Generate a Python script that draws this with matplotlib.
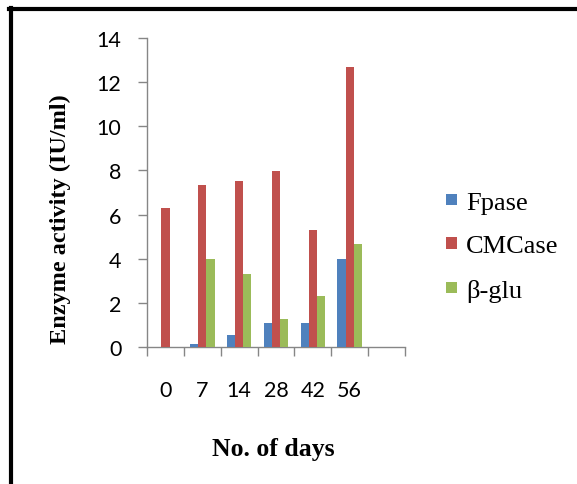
import matplotlib
matplotlib.use('Agg')
from matplotlib import pyplot as plt
from matplotlib.lines import Line2D
import numpy as np

# data
days = ['0', '7', '14', '28', '42', '56']
fpase = [0.0, 0.12, 0.53, 1.10, 1.10, 3.98]
cmcase = [6.28, 7.34, 7.51, 7.98, 5.31, 12.68]
beta_glu = [0.0, 3.98, 3.33, 1.29, 2.29, 4.66]

series = [
    (fpase, '#4F81BD', 'Fpase'),
    (cmcase, '#C0504D', 'CMCase'),
    (beta_glu, '#9BBB59', 'β-glu'),
]

W, H = 577, 485
fig = plt.figure(figsize=(W / 100, H / 100), dpi=100)
ax = fig.add_axes([147 / W, 1 - 348 / H, 258 / W, 309 / H])

x = np.arange(len(days))
bw = 1 / 4.5
for i, (vals, color, name) in enumerate(series):
    ax.bar(x + (i - 1) * bw, vals, width=bw, color=color, label=name, zorder=3)

axis_gray = '#868686'
ax.set_xlim(-0.5, len(days) + 0.5)   # one empty category at the end, as in the original
ax.set_ylim(0, 14)
ax.set_yticks(range(0, 15, 2))
ax.set_xticks(x)
ax.set_xticklabels(days)
ax.set_xticks(np.arange(-0.5, len(days) + 1, 1), minor=True)

for s in ['top', 'right']:
    ax.spines[s].set_visible(False)
for s in ['left', 'bottom']:
    ax.spines[s].set_color(axis_gray)
    ax.spines[s].set_linewidth(1.0)

tick_font = {'family': 'Lato', 'size': 15.5}
ax.tick_params(axis='y', direction='out', length=6.5, width=1.0, color=axis_gray, pad=12)
ax.tick_params(axis='x', which='major', length=0, pad=24)
ax.tick_params(axis='x', which='minor', direction='out', length=6.5, width=1.0, color=axis_gray)
for lab in ax.get_xticklabels() + ax.get_yticklabels():
    lab.set_fontfamily(tick_font['family'])
    lab.set_fontsize(tick_font['size'])

serif = 'Liberation Serif'
fig.text(60 / W, 1 - 219 / H, 'Enzyme activity (IU/ml)', rotation=90, ha='center', va='center',
         family=serif, weight='bold', size=17.5)
fig.text(273 / W, 1 - 450 / H, 'No. of days', ha='center', va='center',
         family=serif, weight='bold', size=18.5)

fig.legend(loc='center left', bbox_to_anchor=(446 / W, 1 - 248 / H), frameon=False,
           prop={'family': serif, 'size': 19}, handlelength=0.4, handleheight=0.3,
           handletextpad=0.35, labelspacing=0.82, borderpad=0, borderaxespad=0)

# black frame on the top and left edges
fig.add_artist(Line2D([9 / W, 1], [1 - 10 / H, 1 - 10 / H], color='black', lw=3, transform=fig.transFigure))
fig.add_artist(Line2D([11 / W, 11 / W], [0, 1 - 8.5 / H], color='black', lw=3, transform=fig.transFigure))

plt.savefig('out.png', dpi=100)
